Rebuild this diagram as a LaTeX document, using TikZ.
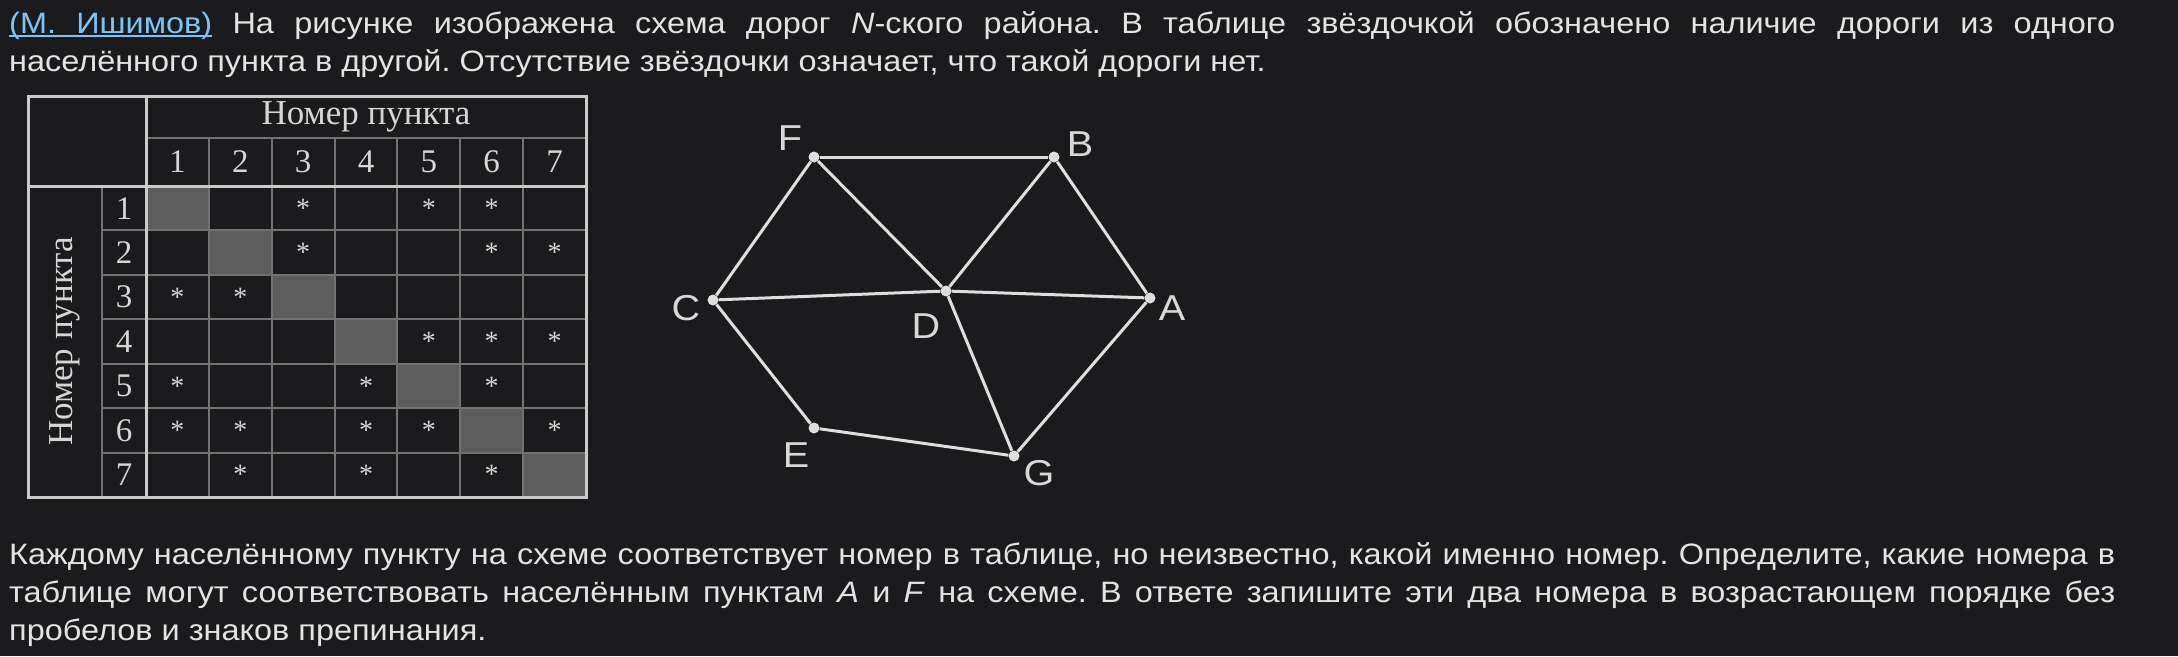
\documentclass[tikz,border=0pt]{standalone}
\usepackage{fontspec}
\setmainfont[FakeStretch=1.1]{Liberation Sans}
\newfontfamily\tabfont{Liberation Serif}
\usetikzlibrary{matrix,positioning}
\frenchspacing

\definecolor{bgcol}{HTML}{1B1B1D}
\definecolor{txtcol}{HTML}{E3E3E3}
\definecolor{linkcol}{HTML}{7DC3F7}
\definecolor{gridhi}{HTML}{CACACA}
\definecolor{gridlo}{HTML}{727272}
\definecolor{diagcol}{HTML}{5D5D5D}
\definecolor{tabtxt}{HTML}{D6D6D6}
\definecolor{roadcol}{HTML}{DEDEDE}
\definecolor{labcol}{HTML}{D8D8D8}

% underlined word and underlined stretchable space
\newcommand\ulword[1]{\setbox0\hbox{#1}\rlap{\rule[-3.5pt]{\wd0}{2pt}}\box0}
\newcommand\ulspace{\leaders\hrule height -1.5pt depth 3.5pt\hskip\fontdimen2\font plus\fontdimen3\font minus\fontdimen4\font}

\begin{document}
\begin{tikzpicture}[
x=1pt, y=-1pt,
txt/.style={
  anchor=base west,
  inner sep=0,
  text=txtcol,
  font=\fontsize{29.5}{38}\selectfont
  },
num/.style={
  inner sep=0,
  text=tabtxt,
  font=\tabfont\fontsize{33}{33}\selectfont
  },
tab/.style={
  matrix of nodes,
  nodes={
    draw=gridlo,
    line width=2pt,
    anchor=center,
    minimum width=62.86pt,
    minimum height=44.43pt,
    inner sep=0,
    outer sep=0,
    text=tabtxt,
    font=\tabfont\fontsize{28}{28}\selectfont
    },
  nodes in empty cells,
  inner sep=0,
  column sep=-2pt,
  row sep=-2pt
  },
diag/.style={fill=diagcol},
thickline/.style={draw=gridhi, line width=3pt},
thinline/.style={draw=gridlo, line width=2pt},
road/.style={draw=roadcol, line width=3pt},
town/.style={circle, fill=roadcol, inner sep=0, minimum size=11pt},
lab/.style={inner sep=0, text=labcol, font=\fontsize{36}{36}\selectfont}
]
\fill[bgcol] (0,0) rectangle (2178,656);

% text above
\node[txt] (intro1) at (9,33) {\makebox[2106pt][s]{\textcolor{linkcol}{\ulword{(М.}\ulspace\ulword{Ишимов)}} На рисунке изображена схема дорог \textit{N}-ского района. В таблице звёздочкой обозначено наличие дороги из одного}};
\node[txt] (intro2) at (9,71) {населённого пункта в другой. Отсутствие звёздочки означает, что такой дороги нет.};

% table
\matrix[tab] (tab) at (366,341.5)
{
|[diag]| & & * & & * & * & \\
& |[diag]| & * & & & * & * \\
* & * & |[diag]| & & & & \\
& & & |[diag]| & * & * & * \\
* & & & * & |[diag]| & * & \\
* & * & & * & * & |[diag]| & * \\
& * & & * & & * & |[diag]| \\
};
\coordinate (hdr) at (0,138);
\coordinate (numrow) at (0,162);
\coordinate (side) at (102,0);
\coordinate (numcol) at (124,0);

\node[num, font=\tabfont\fontsize{35}{35}\selectfont] (head) at (366,117) {Номер пункта};
\node[num, font=\tabfont\fontsize{35}{35}\selectfont, rotate=90] (sidehead) at (65,341.5) {Номер пункта};
\foreach \j in {1,...,7}
  \node[num] (col\j) at (tab-1-\j |- numrow) {\j};
\foreach \i in {1,...,7}
  \node[num] (row\i) at (tab-\i-1 -| numcol) {\i};

\draw[thinline] (146,138) -- (586,138);
\draw[thinline] (102,186) -- (102,497);
\foreach \j in {1,...,6}
  \draw[thinline] (tab-1-\j.north east) -- (tab-1-\j.north east |- hdr);
\foreach \i in {1,...,6}
  \draw[thinline] (tab-\i-1.south west) -- (tab-\i-1.south west -| side);
\draw[thickline] (28,96) rectangle (586,497);
\draw[thickline] (146,96) -- (146,497);
\draw[thickline] (28,186) -- (586,186);

% road scheme
\node[town] (F) at (814,157) {};
\node[town] (B) at (1054,157) {};
\node[town] (C) at (713,300) {};
\node[town] (D) at (946,291) {};
\node[town] (A) at (1150,298) {};
\node[town] (E) at (814,428) {};
\node[town] (G) at (1014,456) {};
\foreach \u/\v in {F/B,F/C,F/D,B/D,B/A,C/D,D/A,C/E,D/G,E/G,G/A}
  \draw[road] (\u) -- (\v);

\node[lab] (lF) at (790,138) {F};
\node[lab] (lB) at (1080,144) {B};
\node[lab] (lC) at (686,308) {C};
\node[lab] (lD) at (926,326) {D};
\node[lab] (lA) at (1172,308) {A};
\node[lab] (lE) at (796,455) {E};
\node[lab] (lG) at (1039,473) {G};

% text below
\node[txt] (task1) at (9,564) {\makebox[2106pt][s]{Каждому населённому пункту на схеме соответствует номер в таблице, но неизвестно, какой именно номер. Определите, какие номера в}};
\node[txt] (task2) at (9,602) {\makebox[2106pt][s]{таблице могут соответствовать населённым пунктам \textit{A} и \textit{F} на схеме. В ответе запишите эти два номера в возрастающем порядке без}};
\node[txt] (task3) at (9,640) {пробелов и знаков препинания.};
\end{tikzpicture}
\end{document}
